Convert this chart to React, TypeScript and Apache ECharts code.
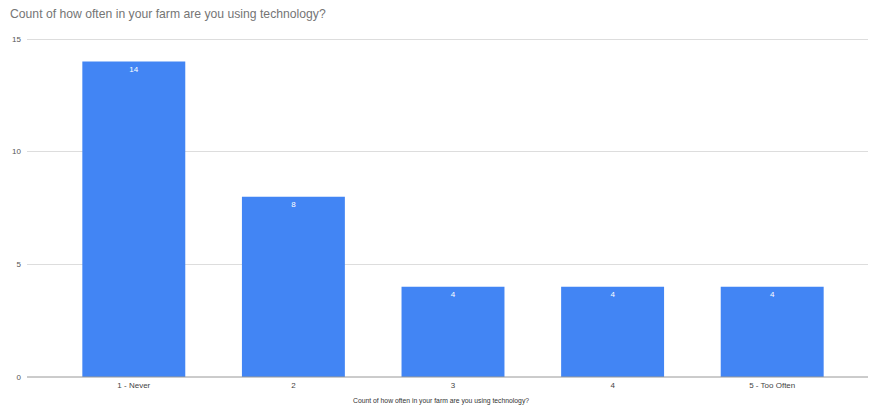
import React, { useEffect, useRef } from "react";
import * as echarts from "echarts";

const categories = ["1 - Never", "2", "3", "4", "5 - Too Often"];
const counts = [14, 8, 4, 4, 4];
const yTicks = [0, 5, 10, 15];

const TITLE = "Count of how often in your farm are you using technology?";
const FONT = "Arial, 'Liberation Sans', sans-serif";

export default function App() {
  const ref = useRef<HTMLDivElement>(null);

  useEffect(() => {
    if (!ref.current) return;
    const chart = echarts.init(ref.current, undefined, { renderer: "svg" });
    const yMax = yTicks[yTicks.length - 1];
    chart.setOption({
      animation: false,
      backgroundColor: "#ffffff",
      title: {
        text: TITLE,
        left: 5,
        top: 3,
        textStyle: {
          fontFamily: FONT,
          fontSize: 12.2,
          fontWeight: "normal",
          color: "#757575",
        },
      },
      grid: [
        { left: 27, right: 2, top: 39, bottom: 30 },
        { left: 54, right: 18, top: 39, bottom: 30 },
      ],
      xAxis: [
        {
          type: "value",
          gridIndex: 0,
          min: 0,
          max: 1,
          show: false,
        },
        {
          type: "category",
          gridIndex: 1,
          data: categories,
          axisLine: { show: false },
          axisTick: { show: false },
          axisLabel: {
            fontFamily: FONT,
            fontSize: 8,
            color: "#444444",
            margin: 4,
          },
        },
      ],
      yAxis: [
        {
          type: "value",
          gridIndex: 0,
          min: 0,
          max: yMax,
          interval: 5,
          axisLine: { show: false },
          axisTick: { show: false },
          axisLabel: {
            fontFamily: FONT,
            fontSize: 8,
            color: "#555555",
            margin: 6,
          },
          splitLine: { lineStyle: { color: "#dddddd", width: 1 } },
        },
        {
          type: "value",
          gridIndex: 1,
          min: 0,
          max: yMax,
          interval: 5,
          show: false,
          splitLine: { show: false },
        },
      ],
      graphic: [
        {
          type: "text",
          left: 353,
          top: 397,
          style: {
            text: TITLE,
            fontFamily: FONT,
            fontSize: 6.8,
            fill: "#333333",
          },
        },
      ],
      series: [
        {
          // baseline drawn along zero across the full plot width
          type: "line",
          xAxisIndex: 0,
          yAxisIndex: 0,
          data: [
            [0, 0],
            [1, 0],
          ],
          symbol: "none",
          lineStyle: { color: "#999999", width: 1 },
          z: 5,
          silent: true,
        },
        {
          type: "bar",
          xAxisIndex: 1,
          yAxisIndex: 1,
          data: counts,
          barCategoryGap: "35.5%",
          itemStyle: { color: "#4285F4" },
          label: {
            show: true,
            position: "insideTop",
            distance: 4,
            color: "#ffffff",
            fontFamily: FONT,
            fontSize: 8,
          },
        },
      ],
    });
    return () => chart.dispose();
  }, []);

  return <div ref={ref} style={{ width: 870, height: 407, position: "absolute", left: 0, top: 0 }} />;
}
